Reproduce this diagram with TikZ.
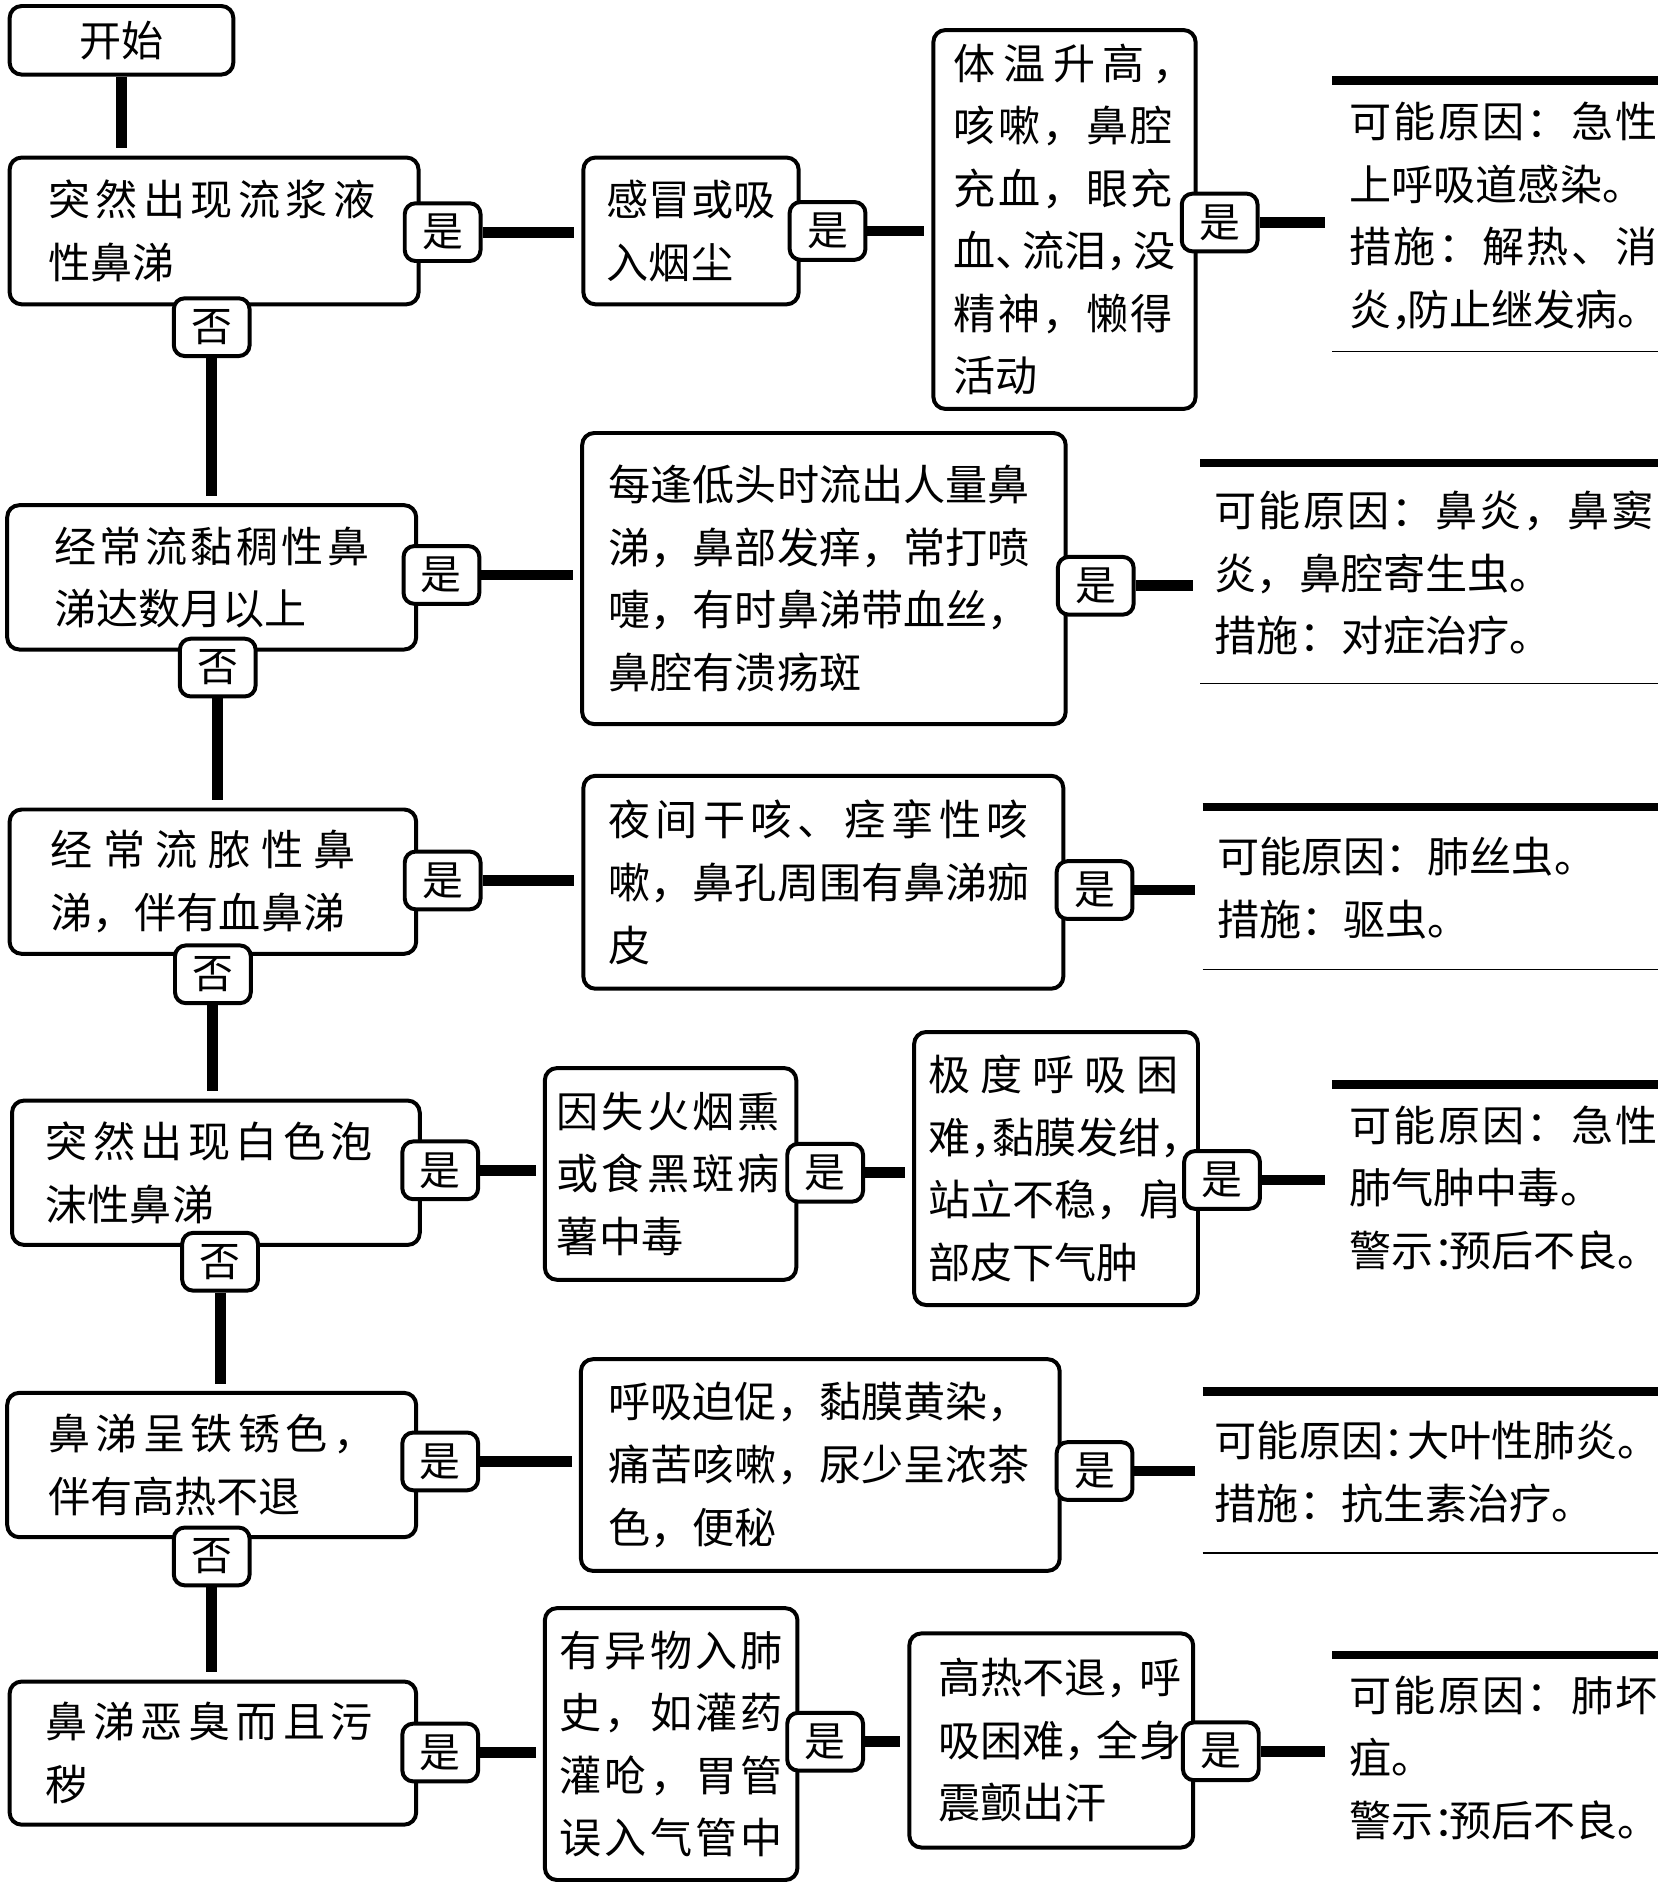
\documentclass[tikz,border=0pt]{standalone}
\usepackage{fontspec}
\newfontfamily\cjk{Noto Sans CJK SC}
\makeatletter
\def\jsp#1{#1\futurelet\jsp@next\jsp@check}
\def\jsp@check{\ifx\jsp@next\relax\expandafter\@gobble\else\hfill\expandafter\jsp\fi}
\newcommand\spr[2]{\makebox[#1pt][s]{\jsp#2\relax}}
\makeatother
\begin{document}
\begin{tikzpicture}[x=1pt,y=-1pt,
  txt/.style={font=\cjk\fontsize{35}{52}\selectfont},
  box/.style={txt, draw, line width=3.3pt, rounded corners=10pt, align=left, inner xsep=0pt, inner ysep=0pt},
  res/.style={txt, align=left, inner xsep=0pt, inner ysep=0pt},
  lab/.style={draw, fill=white, line width=3.3pt, rounded corners=9pt, minimum width=63pt, minimum height=48pt, inner sep=0pt, font=\cjk\fontsize{34}{40}\selectfont},
  conn/.style={line width=9pt, shorten >=6pt},
  vconn/.style={line width=9pt, shorten >=6pt},
  topline/.style={line width=7pt},
  botline/.style={line width=1.2pt}]
\useasboundingbox (0,0) rectangle (1381,1568);

% ---- boxes ----
\node[box, align=center, minimum width=186pt, minimum height=57pt] (start) at (101,33.5) {开始};

\node[box, minimum width=340pt, minimum height=122pt, text width=276pt] (b1) at (178,192) {\spr{272}{突然出现流浆液}\\性鼻涕};
\node[box, minimum width=179pt, minimum height=122pt, text width=140pt] (b1a) at (574.5,192) {感冒或吸\\入烟尘};
\node[box, minimum width=218pt, minimum height=315pt, text width=184pt] (b1b) at (885,182.5) {\spr{200}{体温升高，}\\\spr{182}{咳嗽，鼻腔}\\\spr{182}{充血，眼充}\\血、\kern-13pt 流泪，\kern-13pt 没\\\spr{182}{精神，懒得}\\活动};
\node[res, minimum width=270pt, minimum height=225pt, text width=242pt] (r1) at (1243,179.5) {\spr{256}{可能原因：急性}\\上呼吸道感染。\\\spr{256}{措施：解热、消}\\炎，\kern-22pt 防止继发病。};

\node[box, minimum width=340pt, minimum height=120pt, text width=262pt] (b2) at (176,480) {\spr{262}{经常流黏稠性鼻}\\涕达数月以上};
\node[box, minimum width=402pt, minimum height=242pt, text width=358pt] (b2a) at (685,481) {每逢低头时流出人量鼻\\涕，鼻部发痒，常打喷\\嚏，有时鼻涕带血丝，\\鼻腔有溃疡斑};
\node[res, minimum width=380pt, minimum height=183pt, text width=356pt] (r2) at (1188,476.5) {\spr{365}{可能原因：鼻炎，鼻窦}\\炎，鼻腔寄生虫。\\措施：对症治疗。};

\node[box, minimum width=338pt, minimum height=120pt, text width=270pt] (b3) at (177,733) {\spr{254}{经常流脓性鼻}\\涕，伴有血鼻涕};
\node[box, minimum width=399pt, minimum height=177pt, text width=357pt] (b3a) at (684.5,733.5) {\spr{349}{夜间干咳、痉挛性咳}\\嗽，鼻孔周围有鼻涕痂\\皮};
\node[res, minimum width=378pt, minimum height=135pt, text width=354pt] (r3) at (1189,738.5) {可能原因：肺丝虫。\\措施：驱虫。};

\node[box, minimum width=339pt, minimum height=120pt, text width=283pt] (b4) at (179.5,975) {\spr{272}{突然出现白色泡}\\沫性鼻涕};
\node[box, minimum width=209pt, minimum height=176pt, text width=189pt] (b4a) at (557.5,976) {\spr{185}{因失火烟熏}\\\spr{185}{或食黑斑病}\\薯中毒};
\node[box, minimum width=236pt, minimum height=227pt, text width=212pt] (b4b) at (878,971.5) {\spr{208}{极度呼吸困}\\难，\kern-17pt 黏膜发绀，\\站立不稳，肩\\部皮下气肿};
\node[res, minimum width=270pt, minimum height=171pt, text width=242pt] (r4) at (1243,987.5) {\spr{256}{可能原因：急性}\\肺气肿中毒。\\警示：\kern-22pt 预后不良。};

\node[box, minimum width=340pt, minimum height=120pt, text width=272pt] (b5) at (176,1218) {\spr{272}{鼻涕呈铁锈色，}\\伴有高热不退};
\node[box, minimum width=398pt, minimum height=176pt, text width=352pt] (b5a) at (682,1218) {呼吸迫促，黏膜黄染，\\痛苦咳嗽，尿少呈浓茶\\色，便秘};
\node[res, minimum width=378pt, minimum height=134pt, text width=358pt] (r5) at (1189,1224) {可能原因：\kern-15pt 大叶性肺炎。\\措施：抗生素治疗。};

\node[box, minimum width=338pt, minimum height=119pt, text width=278pt] (b6) at (177,1457.5) {\spr{272}{鼻涕恶臭而且污}\\秽};
\node[box, minimum width=210pt, minimum height=226pt, text width=186pt] (b6a) at (558,1450) {\spr{186}{有异物入肺}\\\spr{186}{史，如灌药}\\\spr{186}{灌呛，胃管}\\\spr{186}{误入气管中}};
\node[box, minimum width=236pt, minimum height=178pt, text width=188pt] (b6b) at (874,1447) {高热不退，\kern-8pt 呼\\吸困难，\kern-8pt 全身\\震颤出汗};
\node[res, minimum width=270pt, minimum height=171pt, text width=242pt] (r6) at (1243,1461.5) {\spr{256}{可能原因：肺坏}\\疽。\\警示：\kern-22pt 预后不良。};

% ---- result lines ----
\foreach \r in {r1,r2,r3,r4,r5,r6}{\draw[topline] (\r.north west) -- (\r.north east);}
\foreach \r in {r1,r2,r3,r5}{\draw[botline] (\r.south west) -- (\r.south east);}

% ---- labels ----
\node[lab] (y1) at (368,193) {是};
\node[lab] (n1) at (176,272) {否};
\node[lab] (y1a) at (688,192) {是};
\node[lab] (y1b) at (1014,185) {是};
\node[lab] (y2) at (367,478) {是};
\node[lab] (n2) at (181,555) {否};
\node[lab] (y2a) at (911,487) {是};
\node[lab] (y3) at (368,732) {是};
\node[lab] (n3) at (177,810) {否};
\node[lab] (y3a) at (910,740) {是};
\node[lab] (y4) at (366,973) {是};
\node[lab] (n4) at (183,1049) {否};
\node[lab] (y4a) at (686,975) {是};
\node[lab] (y4b) at (1016,981) {是};
\node[lab] (y5) at (366,1215) {是};
\node[lab] (n5) at (176,1294) {否};
\node[lab] (y5a) at (910,1223) {是};
\node[lab] (y6) at (366,1457) {是};
\node[lab] (y6a) at (686,1448) {是};
\node[lab] (y6b) at (1015,1456) {是};

% ---- connectors ----
\draw[vconn] (start.south) -- (start.south |- b1.north);
\draw[vconn] (n1.south) -- (n1.south |- b2.north);
\draw[vconn] (n2.south) -- (n2.south |- b3.north);
\draw[vconn] (n3.south) -- (n3.south |- b4.north);
\draw[vconn] (n4.south) -- (n4.south |- b5.north);
\draw[vconn] (n5.south) -- (n5.south |- b6.north);

\draw[conn] (y1.east) -- (y1.east -| b1a.west);
\draw[conn] (y1a.east) -- (y1a.east -| b1b.west);
\draw[conn] (y1b.east) -- (y1b.east -| r1.west);
\draw[conn] (y2.east) -- (y2.east -| b2a.west);
\draw[conn] (y2a.east) -- (y2a.east -| r2.west);
\draw[conn] (y3.east) -- (y3.east -| b3a.west);
\draw[conn] (y3a.east) -- (y3a.east -| r3.west);
\draw[conn] (y4.east) -- (y4.east -| b4a.west);
\draw[conn] (y4a.east) -- (y4a.east -| b4b.west);
\draw[conn] (y4b.east) -- (y4b.east -| r4.west);
\draw[conn] (y5.east) -- (y5.east -| b5a.west);
\draw[conn] (y5a.east) -- (y5a.east -| r5.west);
\draw[conn] (y6.east) -- (y6.east -| b6a.west);
\draw[conn] (y6a.east) -- (y6a.east -| b6b.west);
\draw[conn] (y6b.east) -- (y6b.east -| r6.west);
\end{tikzpicture}
\end{document}
